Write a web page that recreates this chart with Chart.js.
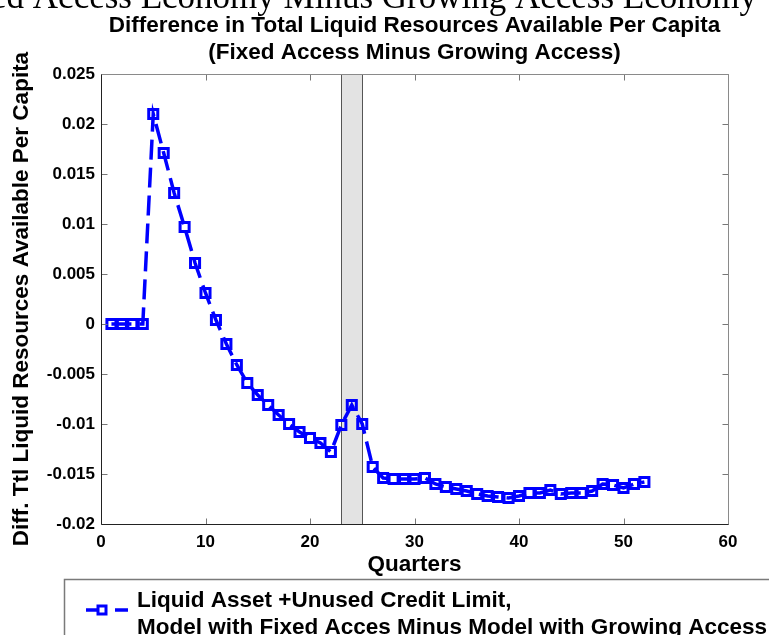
<!DOCTYPE html>
<html>
<head>
<meta charset="utf-8">
<script src="https://cdn.jsdelivr.net/npm/chart.js@4/dist/chart.umd.min.js"></script>
<style>
  html, body { margin: 0; padding: 0; background: #ffffff; overflow: hidden; }
  canvas { display: block; }
</style>
</head>
<body>
<canvas id="myChart" width="769" height="635"></canvas>
<script>
// data
const quarters = [1, 2, 3, 4, 5, 6, 7, 8, 9, 10, 11, 12, 13, 14, 15, 16, 17, 18, 19, 20,
    21, 22, 23, 24, 25, 26, 27, 28, 29, 30, 31, 32, 33, 34, 35, 36, 37, 38, 39, 40,
    41, 42, 43, 44, 45, 46, 47, 48, 49, 50, 51, 52];
const diffValues = [0, 0, 0, 0, 0.0210, 0.0171, 0.0131, 0.0097, 0.0061, 0.0031,
    0.0004, -0.0020, -0.0041, -0.0059, -0.0071, -0.0081, -0.0091, -0.0100, -0.0108, -0.0114,
    -0.0119, -0.0128, -0.0101, -0.0081, -0.0100, -0.0143, -0.0154, -0.0155, -0.0155, -0.0155,
    -0.0154, -0.0160, -0.0163, -0.0165, -0.0167, -0.0170, -0.0172, -0.0173, -0.0174, -0.0172,
    -0.0169, -0.0169, -0.0166, -0.0170, -0.0169, -0.0169, -0.0167, -0.0160, -0.0161, -0.0164,
    -0.0160, -0.0158];
const shadedQuarters = [23, 25];
const xTickValues = [0, 10, 20, 30, 40, 50, 60];
const xTickLabels = ['0', '10', '20', '30', '40', '50', '60'];
const yTickValues = [-0.02, -0.015, -0.01, -0.005, 0, 0.005, 0.01, 0.015, 0.02, 0.025];
const yTickLabels = ['-0.02', '-0.015', '-0.01', '-0.005', '0', '0.005', '0.01', '0.015', '0.02', '0.025'];

const pageTitle = 'Fixed Access Economy Minus Growing Access Economy';
const chartTitle = ['Difference in Total Liquid Resources Available Per Capita',
    '(Fixed Access Minus Growing Access)'];
const xTitle = 'Quarters';
const yTitle = 'Diff. Ttl Liquid Resources Available Per Capita';
const legendLines = ['Liquid Asset +Unused Credit Limit,',
    'Model with Fixed Acces Minus Model with Growing Access'];

const BLUE = '#0000ff';
const FONT = '"Liberation Sans", Arial, Helvetica, sans-serif';

Chart.defaults.font.family = FONT;
Chart.defaults.color = '#000000';

const points = quarters.map((q, i) => ({ x: q, y: diffValues[i] }));

// grey band behind the lines
const bandPlugin = {
    id: 'band',
    beforeDatasetsDraw(chart) {
        const { ctx, chartArea, scales } = chart;
        const x1 = scales.x.getPixelForValue(shadedQuarters[0]);
        const x2 = scales.x.getPixelForValue(shadedQuarters[1]);
        ctx.save();
        ctx.fillStyle = '#e3e3e3';
        ctx.fillRect(x1, chartArea.top, x2 - x1, chartArea.bottom - chartArea.top);
        ctx.strokeStyle = '#555555';
        ctx.lineWidth = 1;
        ctx.beginPath();
        ctx.moveTo(Math.round(x1) + 0.5, chartArea.top);
        ctx.lineTo(Math.round(x1) + 0.5, chartArea.bottom);
        ctx.moveTo(Math.round(x2) + 0.5, chartArea.top);
        ctx.lineTo(Math.round(x2) + 0.5, chartArea.bottom);
        ctx.stroke();
        ctx.restore();
    }
};

// matlab style box, inward ticks, titles and legend
const decorPlugin = {
    id: 'decor',
    afterDraw(chart) {
        const { ctx, chartArea, scales } = chart;
        const { left, right, top, bottom } = chartArea;
        const L = Math.round(left) + 0.5, R = Math.round(right) + 0.5;
        const T = Math.round(top) + 0.5, B = Math.round(bottom) + 0.5;
        const tick = 6;
        ctx.save();

        ctx.strokeStyle = '#777777';
        ctx.lineWidth = 1;
        ctx.beginPath();
        xTickValues.forEach(v => {
            const px = Math.round(scales.x.getPixelForValue(v)) + 0.5;
            ctx.moveTo(px, B); ctx.lineTo(px, B - tick);
            ctx.moveTo(px, T); ctx.lineTo(px, T + tick);
        });
        yTickValues.forEach(v => {
            const py = Math.round(scales.y.getPixelForValue(v)) + 0.5;
            ctx.moveTo(L, py); ctx.lineTo(L + tick, py);
            ctx.moveTo(R, py); ctx.lineTo(R - tick, py);
        });
        ctx.stroke();

        ctx.strokeStyle = '#8a8a8a';
        ctx.beginPath();
        ctx.moveTo(L, T); ctx.lineTo(R, T); ctx.lineTo(R, B);
        ctx.stroke();
        ctx.strokeStyle = '#222222';
        ctx.beginPath();
        ctx.moveTo(L, T); ctx.lineTo(L, B); ctx.lineTo(R, B);
        ctx.stroke();

        // clipped figure title from above the axes
        ctx.fillStyle = '#000000';
        ctx.font = '35px "Liberation Serif", "Times New Roman", serif';
        ctx.textAlign = 'right';
        ctx.textBaseline = 'alphabetic';
        ctx.fillText(pageTitle, 757, 8);

        // axes title
        ctx.font = 'bold 22.5px ' + FONT;
        ctx.textAlign = 'center';
        const cx = (left + right) / 2;
        ctx.fillText(chartTitle[0], cx, 32);
        ctx.fillText(chartTitle[1], cx, 59);

        // legend
        ctx.strokeStyle = '#7a7a7a';
        ctx.lineWidth = 1.5;
        ctx.strokeRect(64.5, 579.5, 800, 100);
        const ds = chart.data.datasets[0];
        const ly = 610;
        ctx.strokeStyle = ds.borderColor;
        ctx.lineWidth = ds.borderWidth;
        ctx.beginPath();
        ctx.moveTo(86, ly); ctx.lineTo(98, ly);
        ctx.moveTo(115, ly); ctx.lineTo(128, ly);
        ctx.stroke();
        ctx.lineWidth = ds.pointBorderWidth;
        ctx.strokeRect(98, ly - 4, 8, 8);
        ctx.fillStyle = '#000000';
        ctx.textAlign = 'left';
        ctx.fillText(legendLines[0], 137, 607);
        ctx.fillText(legendLines[1], 137, 634);

        ctx.restore();
    }
};

function plotChart() {
    const ctx = document.getElementById('myChart').getContext('2d');
    new Chart(ctx, {
        type: 'scatter',
        data: {
            datasets: [{
                label: legendLines.join(' '),
                data: points,
                showLine: true,
                borderColor: BLUE,
                backgroundColor: 'rgba(0,0,0,0)',
                borderWidth: 3.5,
                borderDash: [20, 8],
                tension: 0,
                pointStyle: 'rect',
                pointRadius: 6.4,
                pointBorderWidth: 3,
                pointBorderColor: BLUE,
                pointBackgroundColor: 'rgba(0,0,0,0)'
            }]
        },
        options: {
            responsive: false,
            animation: false,
            devicePixelRatio: 1,
            layout: {
                padding: { left: 0, top: 74, right: 41, bottom: 56 }
            },
            scales: {
                x: {
                    type: 'linear',
                    min: 0,
                    max: 60,
                    grid: { display: false, drawTicks: false },
                    border: { display: false },
                    afterFit: scale => { scale.height = 55; },
                    afterBuildTicks: scale => {
                        scale.ticks = xTickValues.map(v => ({ value: v }));
                    },
                    ticks: {
                        padding: 8,
                        font: { size: 17, weight: 'bold' },
                        callback: (value, index) => xTickLabels[index]
                    },
                    title: {
                        display: true,
                        text: xTitle,
                        font: { size: 22.5, weight: 'bold' },
                        padding: { top: 0, bottom: 1 }
                    }
                },
                y: {
                    type: 'linear',
                    min: -0.02,
                    max: 0.025,
                    grid: { display: false, drawTicks: false },
                    border: { display: false },
                    afterFit: scale => { scale.width = 101; },
                    afterBuildTicks: scale => {
                        scale.ticks = yTickValues.map(v => ({ value: v }));
                    },
                    ticks: {
                        padding: 6,
                        font: { size: 17, weight: 'bold' },
                        callback: (value, index) => yTickLabels[index]
                    },
                    title: {
                        display: true,
                        text: yTitle,
                        font: { size: 22.5, weight: 'bold' },
                        padding: { top: 8, bottom: 0 }
                    }
                }
            },
            plugins: {
                legend: { display: false },
                title: { display: false },
                tooltip: { enabled: false }
            }
        },
        plugins: [bandPlugin, decorPlugin]
    });
}

plotChart();
</script>
</body>
</html>
